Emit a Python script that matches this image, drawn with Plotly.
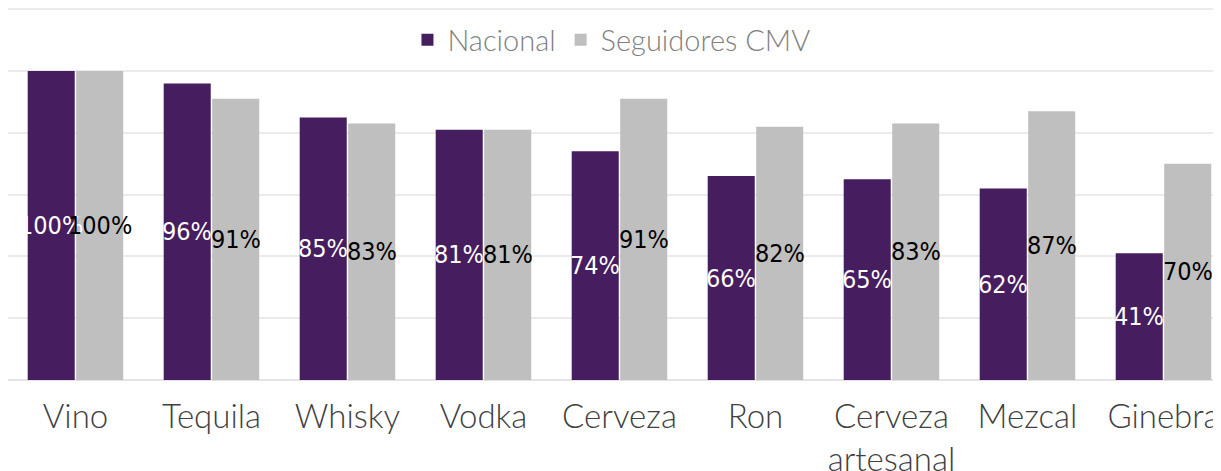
import plotly.graph_objects as go

categories = ["Vino", "Tequila", "Whisky", "Vodka", "Cerveza", "Ron",
              "Cerveza<br>artesanal", "Mezcal", "Ginebra"]
nacional = [100, 96, 85, 81, 74, 66, 65, 62, 41]
seguidores = [100, 91, 83, 81, 91, 82, 83, 87, 70]
series_names = ["Nacional", "Seguidores CMV"]

PURPLE = "#461D5E"
GRAY = "#BFBFBF"
label_font = "DejaVu Sans Condensed, DejaVu Sans, sans-serif"

BARGAP = 0.287
CAT_PX = 136.0
bar_shift = CAT_PX * (1 - BARGAP) / 4  # centre of each bar relative to category centre

fig = go.Figure()
fig.add_trace(go.Bar(
    name=series_names[0], x=categories, y=nacional,
    marker=dict(color=PURPLE, line=dict(width=0)),
))
fig.add_trace(go.Bar(
    name=series_names[1], x=categories, y=seguidores,
    marker=dict(color=GRAY, line=dict(width=0)),
))

# value labels, centred in each bar
for vals, sign, col in [(nacional, -1, "white"), (seguidores, 1, "black")]:
    for c, v in zip(categories, vals):
        fig.add_annotation(
            x=c, y=v / 2, xref="x", yref="y", text=f"{v}%", showarrow=False,
            xshift=sign * bar_shift, yanchor="middle", xanchor="center",
            font=dict(family=label_font, size=25, color=col),
        )

# page body has an 8px margin, so the figure is 8px smaller and drawn from (8, 8)
fig.update_layout(
    width=1213, height=463,
    margin=dict(l=0, r=0, t=0, b=91, autoexpand=False),
    paper_bgcolor="white", plot_bgcolor="white",
    barmode="group", bargap=BARGAP, bargroupgap=0.03,
    showlegend=True,
    legend=dict(orientation="h", x=0.4975, xanchor="center", y=0.914, yanchor="middle",
                font=dict(family="Lato", size=29, color="#7F7F7F", weight=300),
                bgcolor="rgba(0,0,0,0)", traceorder="normal"),
    xaxis=dict(range=[-0.496, 8.423], showgrid=False, showline=False, zeroline=False,
               automargin=False,
               tickfont=dict(family="Lato", size=33, color="#404040", weight=300),
               ticks="", ticklabelstandoff=14),
    yaxis=dict(range=[0, 120.4], tickvals=[0, 20, 40, 60, 80, 100, 120],
               showticklabels=False, showgrid=True, automargin=False,
               gridcolor="#EBEBEB", gridwidth=2, zeroline=True, zerolinecolor="#E3E3E3",
               zerolinewidth=2, showline=False),
)

fig.write_html("out.html")
